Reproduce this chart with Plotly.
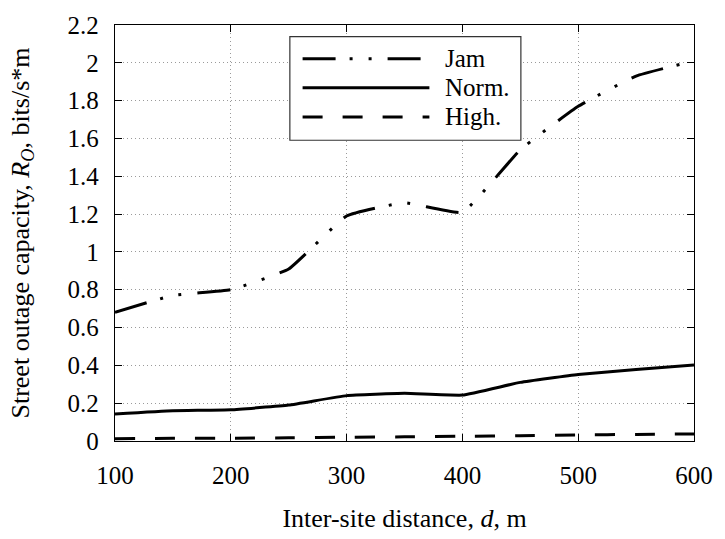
import plotly.graph_objects as go

# inter-site distance, m
distance = [100, 150, 200, 250, 300, 350, 400, 450, 500, 550, 600]

# street outage capacity R_O, bits/s*m
jam = [0.68, 0.77, 0.80, 0.91, 1.19, 1.26, 1.21, 1.54, 1.77, 1.93, 2.01]
norm = [0.143, 0.16, 0.165, 0.19, 0.24, 0.252, 0.243, 0.31, 0.352, 0.378, 0.402]
high = [0.012, 0.014, 0.015, 0.017, 0.02, 0.022, 0.025, 0.028, 0.032, 0.035, 0.037]

x_ticks = [100, 200, 300, 400, 500, 600]
y_ticks = [0, 0.2, 0.4, 0.6, 0.8, 1, 1.2, 1.4, 1.6, 1.8, 2, 2.2]
y_labels = ["0", "0.2", "0.4", "0.6", "0.8", "1", "1.2", "1.4", "1.6", "1.8", "2", "2.2"]

FONT = "Times New Roman, Liberation Serif, serif"
JAM_DASH = "33px,14px,3px,16px,3px,16px"
HIGH_DASH = "20px,20px"

series = [
    ("Jam", jam, JAM_DASH),
    ("Norm.", norm, "solid"),
    ("High.", high, HIGH_DASH),
]

fig = go.Figure()
for name, vals, dash in series:
    fig.add_trace(go.Scatter(
        x=distance, y=vals, name=name, mode="lines",
        line=dict(color="black", width=3, dash=dash, shape="spline", smoothing=0.35),
        showlegend=False,
    ))

axis_common = dict(
    showline=True, linecolor="black", linewidth=1.3, mirror="ticks",
    ticks="inside", ticklen=7, tickcolor="black", tickwidth=1,
    showgrid=True, gridcolor="#9a9a9a", griddash="1px,3px", gridwidth=1,
    zeroline=False, ticklabeloverflow="allow",
    tickfont=dict(family=FONT, size=25, color="black"),
)

fig.update_xaxes(
    range=[100, 600], tickvals=x_ticks, ticklabelstandoff=12,
    title=dict(text="Inter-site distance, <i>d</i>, m", standoff=20,
               font=dict(family=FONT, size=26, color="black")),
    **axis_common,
)
fig.update_yaxes(
    range=[0, 2.2], tickvals=y_ticks, ticktext=y_labels, ticklabelstandoff=10,
    title=dict(text="Street outage capacity, <i>R</i><sub><i>O</i></sub>, bits/s*m", standoff=30,
               font=dict(family=FONT, size=26, color="black")),
    **axis_common,
)

# hand-drawn legend box so the long dash patterns show in the key
lx0, lx1, ly0, ly1 = 0.302, 0.701, 0.723, 0.972
fig.add_shape(type="rect", xref="paper", yref="paper", x0=lx0, x1=lx1, y0=ly0, y1=ly1,
              line=dict(color="#333", width=1.2), fillcolor="white", layer="above")
rows = [0.9186, 0.849, 0.779]
for (name, _, dash), ry in zip(series, rows):
    fig.add_shape(type="line", xref="paper", yref="paper", x0=0.324, x1=0.543, y0=ry, y1=ry,
                  line=dict(color="black", width=3, dash=dash), layer="above")
    fig.add_annotation(text=name, xref="paper", yref="paper", x=0.567, y=ry,
                       xanchor="left", yanchor="middle", showarrow=False,
                       font=dict(family=FONT, size=25, color="black"))

fig.update_layout(
    width=725, height=539,
    margin=dict(l=115, r=24, t=13, b=96),
    plot_bgcolor="white", paper_bgcolor="white",
    font=dict(family=FONT, color="black"),
)

# drop the default 8px body margin so the figure fills the window exactly
fig.write_html("out.html", config={"displayModeBar": False},
               post_script="document.body.style.margin='0';")
